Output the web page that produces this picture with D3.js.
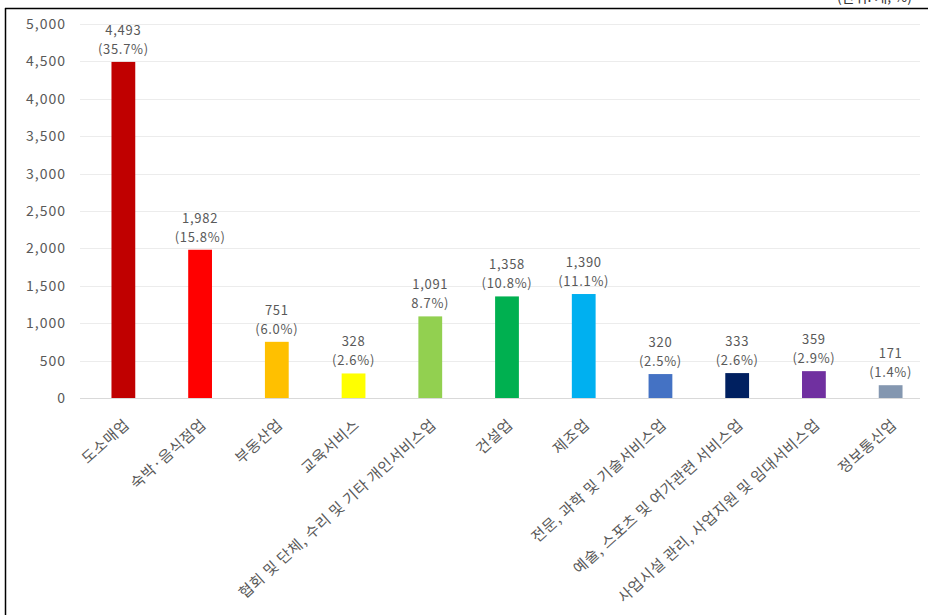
<!DOCTYPE html>
<html>
<head>
<meta charset="utf-8">
<script src="https://cdn.jsdelivr.net/npm/d3@7"></script>
<style>
  html, body { margin: 0; padding: 0; background: #fff; }
  svg { display: block; }
  text { font-family: "Noto Sans CJK KR", "Noto Sans", sans-serif; }
</style>
</head>
<body>
<svg id="chart" width="928" height="615"></svg>
<script>
// Industries, counts and shares
const categories = [
  "도소매업",
  "숙박·음식점업",
  "부동산업",
  "교육서비스",
  "협회 및 단체, 수리 및 기타 개인서비스업",
  "건설업",
  "제조업",
  "전문, 과학 및 기술서비스업",
  "예술, 스포츠 및 여가관련 서비스업",
  "사업시설 관리, 사업지원 및 임대서비스업",
  "정보통신업"
];
const counts = [4493, 1982, 751, 328, 1091, 1358, 1390, 320, 333, 359, 171];
const shareLabels = ["(35.7%)", "(15.8%)", "(6.0%)", "(2.6%)", "8.7%)", "(10.8%)", "(11.1%)", "(2.5%)", "(2.6%)", "(2.9%)", "(1.4%)"];
const barColors = ["#C00000", "#FF0000", "#FFC000", "#FFFF00", "#92D050", "#00B050", "#00B0F0", "#4472C4", "#002060", "#7030A0", "#8497B0"];
const yTicks = [0, 500, 1000, 1500, 2000, 2500, 3000, 3500, 4000, 4500, 5000];
const unitLabel = "(단위: 개, %)";

const svg = d3.select("#chart");
const textColor = "#595959";

const x = d3.scaleBand()
  .domain(categories)
  .range([85, 929])
  .paddingInner(0.69)
  .paddingOuter(0.345);

const y = d3.scaleLinear()
  .domain([0, 5000])
  .range([398, 24]);

// horizontal gridlines
svg.append("g")
  .selectAll("line")
  .data(yTicks)
  .join("line")
  .attr("x1", 80)
  .attr("x2", 920)
  .attr("y1", d => Math.round(y(d)) + 0.5)
  .attr("y2", d => Math.round(y(d)) + 0.5)
  .attr("stroke", d => d === 0 ? "#d9d9d9" : "#ececec")
  .attr("stroke-width", 1);

// y axis labels
const yAxis = d3.axisLeft(y)
  .tickValues(yTicks)
  .tickFormat(d3.format(","))
  .tickSize(0)
  .tickPadding(0);
const yg = svg.append("g")
  .attr("transform", "translate(66,0)")
  .call(yAxis);
yg.select(".domain").remove();
yg.selectAll("text")
  .attr("fill", textColor)
  .style("font-size", "14px")
  .style("letter-spacing", "1px");

// bars
svg.append("g")
  .selectAll("rect")
  .data(counts)
  .join("rect")
  .attr("x", (d, i) => x(categories[i]))
  .attr("width", x.bandwidth())
  .attr("y", d => y(d))
  .attr("height", d => y(0) - y(d))
  .attr("fill", (d, i) => barColors[i]);

// value labels above bars: count on the first line, share below it
const labelG = svg.append("g")
  .attr("fill", textColor)
  .style("font-size", "13px")
  .style("letter-spacing", "0.7px")
  .attr("text-anchor", "middle");
labelG.selectAll("text.count")
  .data(counts)
  .join("text")
  .attr("class", "count")
  .attr("x", (d, i) => x(categories[i]) + x.bandwidth() / 2)
  .attr("y", d => y(d) - 27)
  .text(d => d3.format(",")(d));
labelG.selectAll("text.share")
  .data(counts)
  .join("text")
  .attr("class", "share")
  .attr("x", (d, i) => x(categories[i]) + x.bandwidth() / 2)
  .attr("y", d => y(d) - 8)
  .text((d, i) => shareLabels[i]);

// rotated category labels
const xAxis = d3.axisBottom(x).tickSize(0).tickPadding(0);
const xg = svg.append("g")
  .attr("transform", `translate(0,${y(0)})`)
  .call(xAxis);
xg.select(".domain").remove();
xg.selectAll("text")
  .attr("fill", textColor)
  .style("font-size", "15px")
  .style("letter-spacing", "0.6px")
  .attr("text-anchor", "end")
  .attr("dy", null)
  .attr("y", 0)
  .attr("transform", "translate(7,28) rotate(-42)");

// frame
svg.append("line")
  .attr("x1", 5.5).attr("x2", 5.5)
  .attr("y1", 8).attr("y2", 615)
  .attr("stroke", "#000").attr("stroke-width", 1.5);
svg.append("line")
  .attr("x1", 5).attr("x2", 928)
  .attr("y1", 8.5).attr("y2", 8.5)
  .attr("stroke", "#000").attr("stroke-width", 1.5);

// unit note, sitting above the frame edge
svg.append("text")
  .attr("x", 912)
  .attr("y", 2)
  .attr("text-anchor", "end")
  .attr("fill", "#333")
  .style("font-size", "14px")
  .text(unitLabel);
</script>
</body>
</html>
